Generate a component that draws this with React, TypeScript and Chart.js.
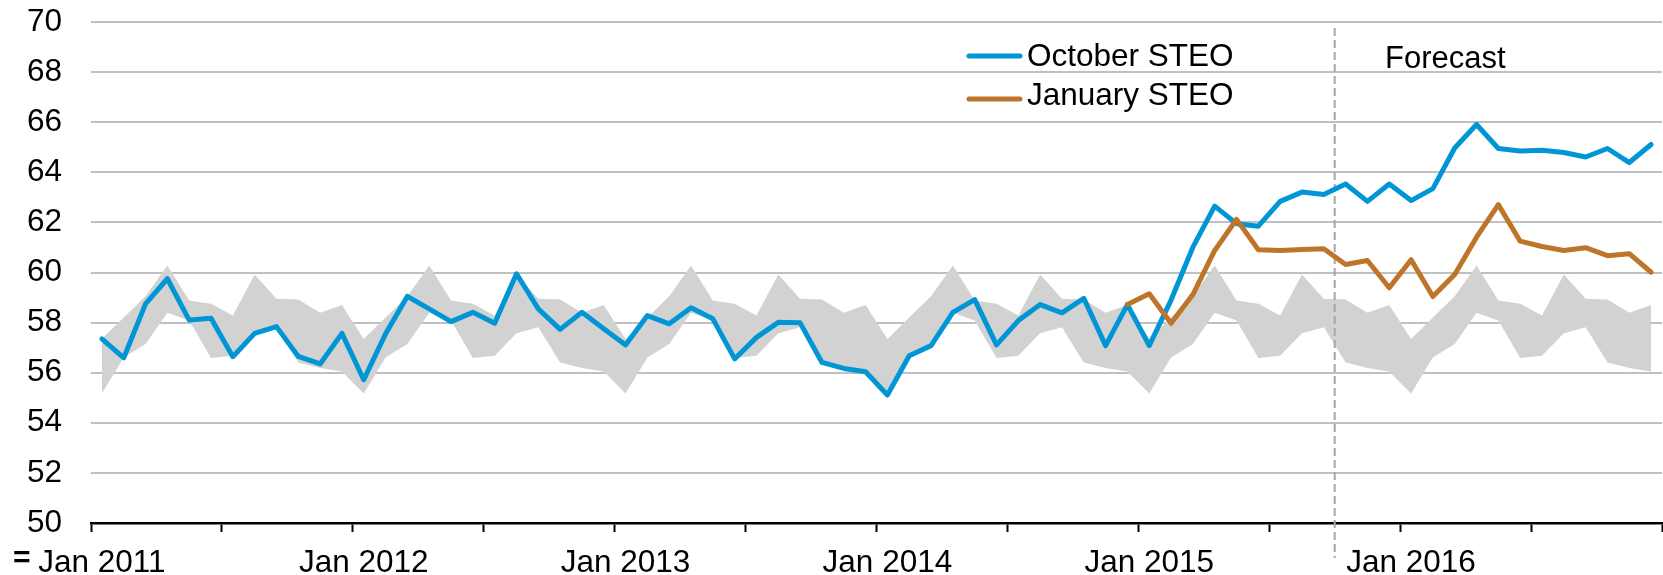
import React, { useEffect, useRef } from 'react';
import { Chart, registerables } from 'chart.js';

Chart.register(...registerables);

const MONTHS = ['Jan', 'Feb', 'Mar', 'Apr', 'May', 'Jun', 'Jul', 'Aug', 'Sep', 'Oct', 'Nov', 'Dec'];
const YEARS = [2011, 2012, 2013, 2014, 2015, 2016];
const CATEGORIES: string[] = YEARS.flatMap((y) => MONTHS.map((m) => `${m} ${y}`));

const Y_MIN = 50;
const Y_MAX = 70;
const Y_STEP = 2;

const FORECAST_START = 'Oct 2015';
const FORECAST_LABEL = 'Forecast';
const AXIS_MARK = '=';

const OCTOBER_STEO = [
  57.35, 56.59, 58.75, 59.75, 58.1, 58.17, 56.64, 57.57, 57.84, 56.65, 56.35, 57.57,
  55.72, 57.55, 59.05, 58.55, 58.04, 58.41, 57.97, 59.95, 58.55, 57.73, 58.41, 57.75,
  57.11, 58.28, 57.95, 58.59, 58.15, 56.55, 57.41, 58.01, 57.99, 56.41, 56.17, 56.04,
  55.11, 56.68, 57.08, 58.41, 58.92, 57.11, 58.08, 58.72, 58.39, 58.97, 57.08, 58.72,
  57.08, 58.9, 61.01, 62.65, 61.95, 61.85, 62.84, 63.21, 63.11, 63.53, 62.84, 63.53,
  62.87, 63.35, 64.97, 65.91, 64.95, 64.85, 64.88, 64.79, 64.61, 64.95, 64.39, 65.11,
];

const JANUARY_STEO: (number | null)[] = [
  ...Array(47).fill(null),
  58.72,
  59.15, 57.97, 59.12, 60.88, 62.12, 60.91, 60.88, 60.92, 60.95, 60.32, 60.48, 59.39,
  60.51, 59.04, 59.92, 61.41, 62.71, 61.25, 61.04, 60.88, 60.99, 60.67, 60.75, 60.01,
];

const RANGE_HIGH = [
  57.35, 58.2, 59.05, 60.28, 58.88, 58.75, 58.28, 59.92, 58.95, 58.92, 58.39, 58.7,
  57.35, 58.2, 59.05, 60.28, 58.88, 58.75, 58.28, 59.92, 58.95, 58.92, 58.39, 58.7,
  57.35, 58.2, 59.05, 60.28, 58.88, 58.75, 58.28, 59.92, 58.95, 58.92, 58.39, 58.7,
  57.35, 58.2, 59.05, 60.28, 58.88, 58.75, 58.28, 59.92, 58.95, 58.92, 58.39, 58.7,
  57.35, 58.2, 59.05, 60.28, 58.88, 58.75, 58.28, 59.92, 58.95, 58.92, 58.39, 58.7,
  57.35, 58.2, 59.05, 60.28, 58.88, 58.75, 58.28, 59.92, 58.95, 58.92, 58.39, 58.7,
];

const RANGE_LOW = [
  55.17, 56.61, 57.15, 58.39, 58.08, 56.59, 56.68, 57.57, 57.81, 56.41, 56.19, 56.05,
  55.17, 56.61, 57.15, 58.39, 58.08, 56.59, 56.68, 57.57, 57.81, 56.41, 56.19, 56.05,
  55.17, 56.61, 57.15, 58.39, 58.08, 56.59, 56.68, 57.57, 57.81, 56.41, 56.19, 56.05,
  55.17, 56.61, 57.15, 58.39, 58.08, 56.59, 56.68, 57.57, 57.81, 56.41, 56.19, 56.05,
  55.17, 56.61, 57.15, 58.39, 58.08, 56.59, 56.68, 57.57, 57.81, 56.41, 56.19, 56.05,
  55.17, 56.61, 57.15, 58.39, 58.08, 56.59, 56.68, 57.57, 57.81, 56.41, 56.19, 56.05,
];

const BLUE = 'rgb(0,150,214)';
const ORANGE = 'rgb(190,117,42)';
const BAND = 'rgb(210,210,210)';
const GRID = 'rgb(192,192,192)';
const FONT = '"Liberation Sans", Arial, sans-serif';

const LEGEND_ITEMS = [
  { label: 'October STEO', color: BLUE },
  { label: 'January STEO', color: ORANGE },
];

const overlayPlugin = {
  id: 'overlay',
  beforeDatasetDraw(chart: any, args: any) {
    if (args.index !== 1) return;
    const x = chart.scales.x;
    const idx = CATEGORIES.indexOf(FORECAST_START);
    const px = (x.getPixelForValue(idx - 1) + x.getPixelForValue(idx)) / 2;
    const ctx = chart.ctx;
    ctx.save();
    ctx.strokeStyle = 'rgb(166,166,166)';
    ctx.lineWidth = 2;
    ctx.setLineDash([8, 4]);
    ctx.beginPath();
    ctx.moveTo(px, 28);
    ctx.lineTo(px, 558);
    ctx.stroke();
    ctx.restore();
  },
  afterDraw(chart: any) {
    const ctx = chart.ctx;
    ctx.save();
    ctx.fillStyle = '#000';
    ctx.textBaseline = 'alphabetic';
    ctx.textAlign = 'left';
    ctx.font = `31px ${FONT}`;
    ctx.fillText(FORECAST_LABEL, 1385, 68);
    const rows = [
      { lineY: 56, baseY: 66 },
      { lineY: 99, baseY: 105 },
    ];
    LEGEND_ITEMS.forEach((item, i) => {
      ctx.strokeStyle = item.color;
      ctx.lineWidth = 5;
      ctx.lineCap = 'round';
      ctx.beginPath();
      ctx.moveTo(969, rows[i].lineY);
      ctx.lineTo(1020, rows[i].lineY);
      ctx.stroke();
      ctx.fillStyle = '#000';
      ctx.font = `31.5px ${FONT}`;
      ctx.fillText(item.label, 1027, rows[i].baseY);
    });
    ctx.font = `bold 30px ${FONT}`;
    ctx.fillText(AXIS_MARK, 13, 567);
    ctx.restore();
  },
};

export default function App() {
  const ref = useRef<HTMLCanvasElement | null>(null);

  useEffect(() => {
    if (!ref.current) return;
    const chart = new Chart(ref.current, {
      type: 'line',
      data: {
        labels: CATEGORIES,
        datasets: [
          {
            label: 'January STEO',
            data: JANUARY_STEO,
            borderColor: ORANGE,
            borderWidth: 5,
            pointRadius: 0,
            tension: 0,
            fill: false,
            order: 0,
            borderJoinStyle: 'round',
            borderCapStyle: 'round',
          },
          {
            label: 'October STEO',
            data: OCTOBER_STEO,
            borderColor: BLUE,
            borderWidth: 5,
            pointRadius: 0,
            tension: 0,
            fill: false,
            order: 1,
            borderJoinStyle: 'round',
            borderCapStyle: 'round',
          },
          {
            label: 'Range high',
            data: RANGE_HIGH,
            borderWidth: 0,
            borderColor: 'rgba(0,0,0,0)',
            backgroundColor: BAND,
            pointRadius: 0,
            tension: 0,
            fill: '+1',
            order: 2,
          },
          {
            label: 'Range low',
            data: RANGE_LOW,
            borderWidth: 0,
            borderColor: 'rgba(0,0,0,0)',
            pointRadius: 0,
            tension: 0,
            fill: false,
            order: 3,
          },
        ],
      },
      options: {
        responsive: false,
        animation: false,
        events: [],
        layout: { padding: { top: 22, right: 1, left: 0, bottom: 0 } },
        plugins: {
          legend: { display: false },
          tooltip: { enabled: false },
        },
        scales: {
          x: {
            type: 'category',
            offset: true,
            afterFit: (s: any) => {
              s.height = 52;
              s.paddingLeft = 0;
              s.paddingRight = 0;
            },
            grid: {
              offset: true,
              drawOnChartArea: false,
              drawTicks: true,
              tickLength: 9,
              tickWidth: 2,
              color: 'rgba(0,0,0,0)',
              tickColor: (c: any) =>
                c.index === undefined || c.index % 6 === 0 ? '#000' : 'rgba(0,0,0,0)',
            },
            border: { display: true, color: '#000', width: 2.5 },
            ticks: {
              autoSkip: false,
              maxRotation: 0,
              minRotation: 0,
              padding: 12,
              color: '#000',
              font: { family: FONT, size: 31.5 },
              callback: (_v: any, i: number) => (i % 12 === 0 ? CATEGORIES[i] : ''),
            },
          },
          y: {
            min: Y_MIN,
            max: Y_MAX,
            afterFit: (s: any) => {
              s.width = 91;
              s.paddingTop = 0;
              s.paddingBottom = 0;
            },
            grid: {
              color: (c: any) => (c.tick && c.tick.value === Y_MIN ? 'rgba(0,0,0,0)' : GRID),
              lineWidth: 2,
              drawTicks: false,
            },
            border: { display: false },
            ticks: {
              stepSize: Y_STEP,
              padding: 29,
              color: '#000',
              font: { family: FONT, size: 31.5 },
            },
          },
        },
      },
      plugins: [overlayPlugin],
    });
    return () => chart.destroy();
  }, []);

  return (
    <canvas
      ref={ref}
      width={1663}
      height={575}
      style={{ position: 'absolute', left: 0, top: 0, width: 1663, height: 575 }}
    />
  );
}
